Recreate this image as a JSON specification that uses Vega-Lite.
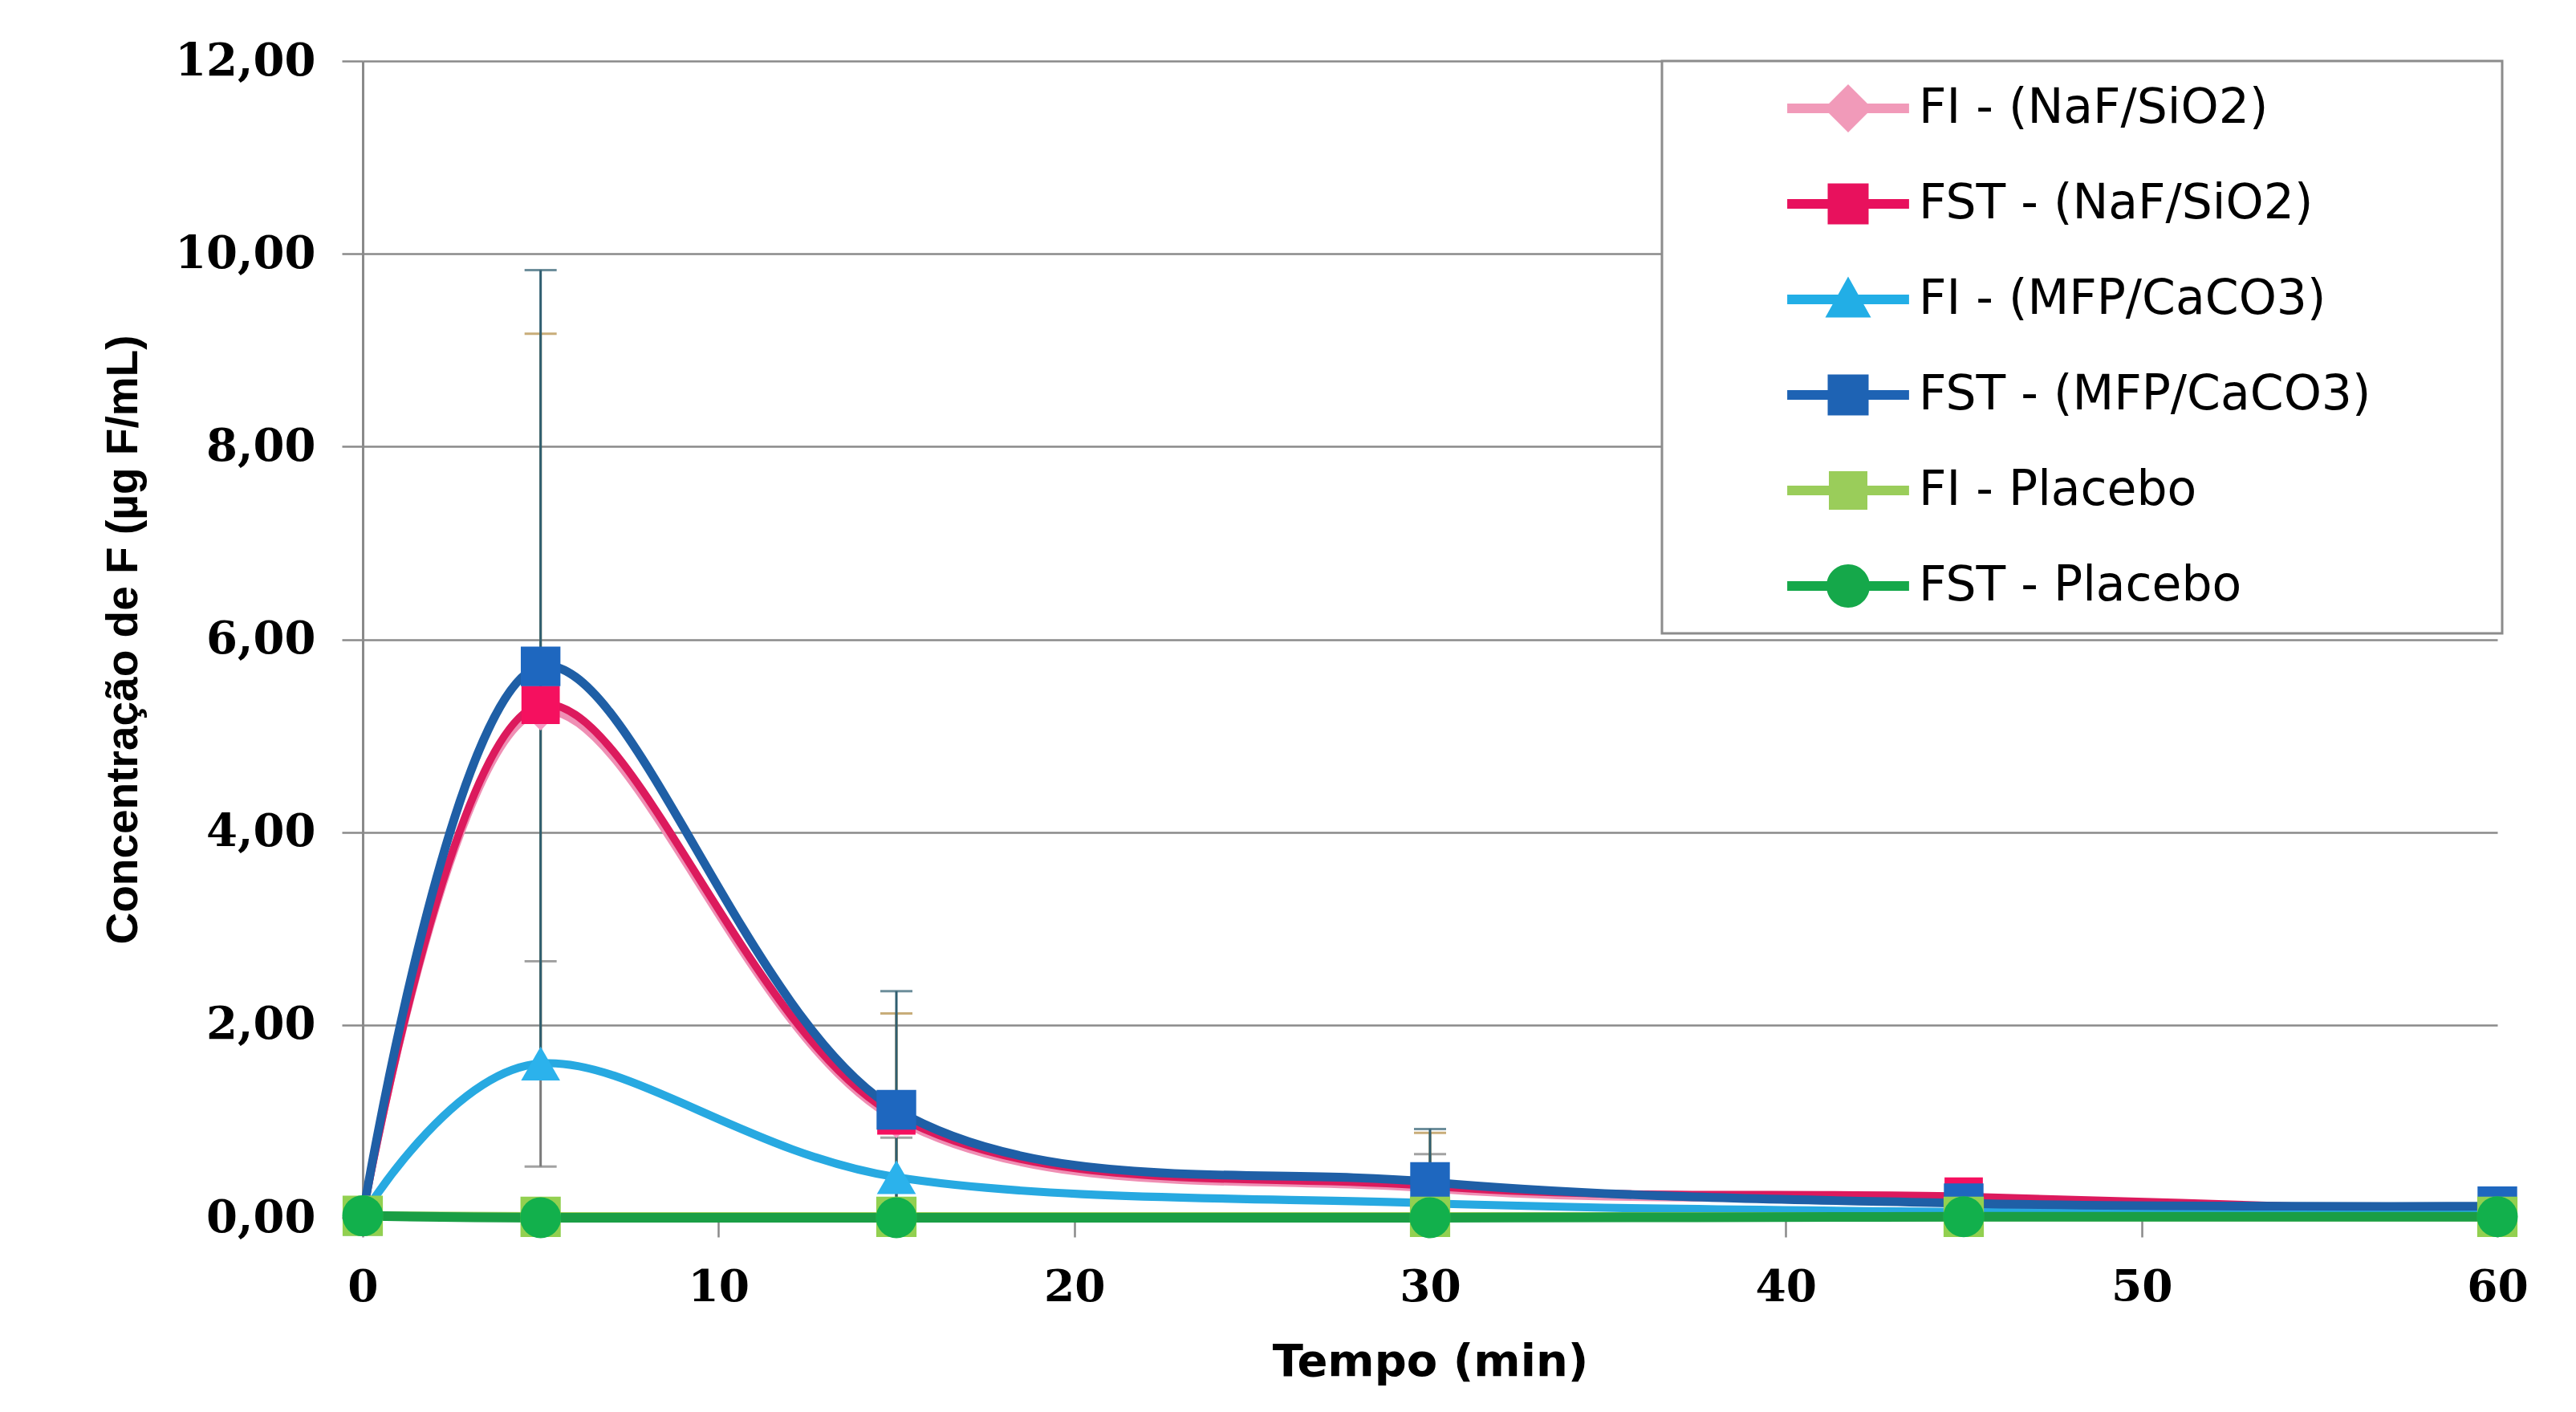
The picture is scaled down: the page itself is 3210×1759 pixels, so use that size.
{
  "$schema": "https://vega.github.io/schema/vega-lite/v6.json",
  "width": 2660,
  "height": 1441,
  "autosize": {"type": "none"},
  "padding": {"left": 452, "top": 76, "right": 98, "bottom": 242},
  "background": "white",
  "config": {
    "view": {"stroke": null},
    "axisY": {
      "grid": true, "gridColor": "#8a8a8a", "gridWidth": 2.5,
      "domainColor": "#8a8a8a", "domainWidth": 3,
      "tickColor": "#8a8a8a", "tickSize": 26, "tickWidth": 2.5, "tickCount": 6,
      "labelFont": "DejaVu Serif", "labelFontWeight": "bold", "labelFontSize": 56, "labelColor": "black",
      "labelPadding": 33,
      "labelExpr": "replace(format(datum.value, '.2f'), '.', ',')",
      "titleFont": "Liberation Sans", "titleFontWeight": "bold", "titleFontSize": 55, "titleColor": "black",
      "titlePadding": 70
    },
    "axisX": {
      "grid": false,
      "domainColor": "#8a8a8a", "domainWidth": 3,
      "tickColor": "#8a8a8a", "tickSize": 24, "tickWidth": 2.5, "tickCount": 6,
      "labelFont": "DejaVu Serif", "labelFontWeight": "bold", "labelFontSize": 55, "labelColor": "black",
      "labelPadding": 36, "labelFlush": false, "labelOverlap": false,
      "titleFont": "DejaVu Sans", "titleFontWeight": "bold", "titleFontSize": 56, "titleColor": "black",
      "titlePadding": 38
    },
    "legend": {
      "orient": "none", "legendX": 1619, "legendY": 0,
      "padding": 29, "strokeColor": "#8c8c8c", "strokeWidth": 3, "fillColor": "white",
      "titleOrient": "left", "titleFontSize": 1, "titlePadding": 127,
      "symbolSize": 3600, "symbolStrokeWidth": 0, "symbolOffset": 46,
      "labelOffset": 58, "rowPadding": 59,
      "labelFont": "DejaVu Sans", "labelFontSize": 60, "labelColor": "black", "labelLimit": 1400
    }
  },
  "datasets": {
    "pts": [
      {"s": "FI - (NaF/SiO2)", "t": 0, "v": 0.02},
      {"s": "FI - (NaF/SiO2)", "t": 5, "v": 5.25},
      {"s": "FI - (NaF/SiO2)", "t": 15, "v": 1.02},
      {"s": "FI - (NaF/SiO2)", "t": 30, "v": 0.30},
      {"s": "FI - (NaF/SiO2)", "t": 45, "v": 0.18},
      {"s": "FI - (NaF/SiO2)", "t": 60, "v": 0.04},
      {"s": "FST - (NaF/SiO2)", "t": 0, "v": 0.02},
      {"s": "FST - (NaF/SiO2)", "t": 5, "v": 5.32},
      {"s": "FST - (NaF/SiO2)", "t": 15, "v": 1.06},
      {"s": "FST - (NaF/SiO2)", "t": 30, "v": 0.33},
      {"s": "FST - (NaF/SiO2)", "t": 45, "v": 0.22},
      {"s": "FST - (NaF/SiO2)", "t": 60, "v": 0.05},
      {"s": "FI - (MFP/CaCO3)", "t": 0, "v": 0.02},
      {"s": "FI - (MFP/CaCO3)", "t": 5, "v": 1.60},
      {"s": "FI - (MFP/CaCO3)", "t": 15, "v": 0.42},
      {"s": "FI - (MFP/CaCO3)", "t": 30, "v": 0.15},
      {"s": "FI - (MFP/CaCO3)", "t": 45, "v": 0.06},
      {"s": "FI - (MFP/CaCO3)", "t": 60, "v": 0.04},
      {"s": "FST - (MFP/CaCO3)", "t": 0, "v": 0.02},
      {"s": "FST - (MFP/CaCO3)", "t": 5, "v": 5.72},
      {"s": "FST - (MFP/CaCO3)", "t": 15, "v": 1.12},
      {"s": "FST - (MFP/CaCO3)", "t": 30, "v": 0.37},
      {"s": "FST - (MFP/CaCO3)", "t": 45, "v": 0.15},
      {"s": "FST - (MFP/CaCO3)", "t": 60, "v": 0.12},
      {"s": "FI - Placebo", "t": 0, "v": 0.02},
      {"s": "FI - Placebo", "t": 5, "v": 0.01},
      {"s": "FI - Placebo", "t": 15, "v": 0.01},
      {"s": "FI - Placebo", "t": 30, "v": 0.01},
      {"s": "FI - Placebo", "t": 45, "v": 0.01},
      {"s": "FI - Placebo", "t": 60, "v": 0.01},
      {"s": "FST - Placebo", "t": 0, "v": 0.02},
      {"s": "FST - Placebo", "t": 5, "v": 0.0},
      {"s": "FST - Placebo", "t": 15, "v": 0.0},
      {"s": "FST - Placebo", "t": 30, "v": 0.0},
      {"s": "FST - Placebo", "t": 45, "v": 0.01},
      {"s": "FST - Placebo", "t": 60, "v": 0.01}
    ],
    "errs": [
      {"s": "FI - (MFP/CaCO3)", "t": 5, "lo": 0.53, "hi": 2.66},
      {"s": "FI - (MFP/CaCO3)", "t": 15, "lo": 0.0, "hi": 0.83},
      {"s": "FI - (MFP/CaCO3)", "t": 30, "lo": 0.0, "hi": 0.66},
      {"s": "FST - (NaF/SiO2)", "t": 5, "lo": 1.47, "hi": 9.17},
      {"s": "FST - (NaF/SiO2)", "t": 15, "lo": 0.0, "hi": 2.12},
      {"s": "FST - (NaF/SiO2)", "t": 30, "lo": 0.0, "hi": 0.88},
      {"s": "FST - (MFP/CaCO3)", "t": 5, "lo": 1.60, "hi": 9.83},
      {"s": "FST - (MFP/CaCO3)", "t": 15, "lo": 0.0, "hi": 2.35},
      {"s": "FST - (MFP/CaCO3)", "t": 30, "lo": 0.0, "hi": 0.92}
    ]
  },
  "layer": [
    {
      "data": {"name": "errs"},
      "mark": {"type": "errorbar", "thickness": 3, "ticks": {"size": 40, "thickness": 3}},
      "encoding": {
        "x": {"field": "t", "type": "quantitative", "scale": {"domain": [0, 60]}, "title": "Tempo (min)"},
        "y": {"field": "lo", "type": "quantitative", "scale": {"domain": [0, 12]}, "title": "Concentração de F (µg F/mL)"},
        "y2": {"field": "hi"},
        "color": {
          "field": "s", "type": "nominal", "legend": null,
          "scale": {"domain": ["FI - (MFP/CaCO3)", "FST - (NaF/SiO2)", "FST - (MFP/CaCO3)"], "range": ["#7a7a7a", "#b08a40", "#2f5e70"]}
        }
      }
    },
    {
      "data": {"name": "pts"},
      "mark": {"type": "line", "interpolate": "cardinal", "tension": 0, "clip": false},
      "encoding": {
        "x": {"field": "t", "type": "quantitative", "scale": {"domain": [0, 60]}, "title": "Tempo (min)"},
        "y": {"field": "v", "type": "quantitative", "scale": {"domain": [0, 12]}, "title": "Concentração de F (µg F/mL)"},
        "color": {
          "field": "s", "type": "nominal", "legend": null,
          "scale": {
            "domain": ["FI - (NaF/SiO2)", "FST - (NaF/SiO2)", "FI - (MFP/CaCO3)", "FST - (MFP/CaCO3)", "FI - Placebo", "FST - Placebo"],
            "range": ["#ef8fb4", "#dc1a5d", "#27a9e1", "#1f5fa6", "#99cc55", "#1a9e45"]
          }
        },
        "strokeWidth": {
          "field": "s", "type": "nominal", "legend": null,
          "scale": {
            "domain": ["FI - (NaF/SiO2)", "FST - (NaF/SiO2)", "FI - (MFP/CaCO3)", "FST - (MFP/CaCO3)", "FI - Placebo", "FST - Placebo"],
            "range": [9, 12, 8, 12, 9, 10]
          }
        }
      }
    },
    {
      "data": {"name": "pts"},
      "mark": {"type": "point", "filled": true, "opacity": 1, "clip": false},
      "encoding": {
        "x": {"field": "t", "type": "quantitative", "scale": {"domain": [0, 60]}, "title": "Tempo (min)"},
        "y": {"field": "v", "type": "quantitative", "scale": {"domain": [0, 12]}, "title": "Concentração de F (µg F/mL)"},
        "color": {
          "field": "s", "type": "nominal", "legend": null,
          "scale": {
            "domain": ["FI - (NaF/SiO2)", "FST - (NaF/SiO2)", "FI - (MFP/CaCO3)", "FST - (MFP/CaCO3)", "FI - Placebo", "FST - Placebo"],
            "range": ["#f49ac1", "#f5105f", "#2bb2ec", "#1e67bf", "#92d050", "#12b04c"]
          }
        },
        "shape": {
          "field": "s", "type": "nominal", "legend": null,
          "scale": {
            "domain": ["FI - (NaF/SiO2)", "FST - (NaF/SiO2)", "FI - (MFP/CaCO3)", "FST - (MFP/CaCO3)", "FI - Placebo", "FST - Placebo"],
            "range": ["diamond", "square", "triangle-up", "square", "square", "circle"]
          }
        },
        "size": {
          "field": "s", "type": "nominal", "legend": null,
          "scale": {
            "domain": ["FI - (NaF/SiO2)", "FST - (NaF/SiO2)", "FI - (MFP/CaCO3)", "FST - (MFP/CaCO3)", "FI - Placebo", "FST - Placebo"],
            "range": [2200, 2600, 2300, 2600, 2000, 2500]
          }
        }
      }
    },
    {
      "data": {"name": "pts"},
      "transform": [{"filter": {"field": "t", "lt": -1}}],
      "mark": {"type": "point", "filled": true, "opacity": 1, "size": 3600, "strokeWidth": 0},
      "encoding": {
        "x": {"field": "t", "type": "quantitative", "scale": {"domain": [0, 60]}, "title": "Tempo (min)"},
        "y": {"field": "v", "type": "quantitative", "scale": {"domain": [0, 12]}, "title": "Concentração de F (µg F/mL)"},
        "color": {
          "field": "s", "type": "nominal", "title": " ",
          "scale": {
            "domain": ["FI - (NaF/SiO2)", "FST - (NaF/SiO2)", "FI - (MFP/CaCO3)", "FST - (MFP/CaCO3)", "FI - Placebo", "FST - Placebo"],
            "range": ["#f19ab9", "#e8115d", "#22aee6", "#1e63b4", "#9acd5a", "#15a84a"]
          }
        },
        "shape": {
          "field": "s", "type": "nominal", "title": " ",
          "scale": {
            "domain": ["FI - (NaF/SiO2)", "FST - (NaF/SiO2)", "FI - (MFP/CaCO3)", "FST - (MFP/CaCO3)", "FI - Placebo", "FST - Placebo"],
            "range": [
              "M26.2,0L26.2,0Z M-2.53,-0.2H2.53V0.2H-2.53Z M0,-1L1,0L0,1L-1,0Z",
              "M26.2,0L26.2,0Z M-2.53,-0.2H2.53V0.2H-2.53Z M-0.85,-0.85H0.85V0.85H-0.85Z",
              "M26.2,0L26.2,0Z M-2.53,-0.2H2.53V0.2H-2.53Z M0,-0.95L0.95,0.75H-0.95Z",
              "M26.2,0L26.2,0Z M-2.53,-0.2H2.53V0.2H-2.53Z M-0.85,-0.85H0.85V0.85H-0.85Z",
              "M26.2,0L26.2,0Z M-2.53,-0.2H2.53V0.2H-2.53Z M-0.8,-0.8H0.8V0.8H-0.8Z",
              "M26.2,0L26.2,0Z M-2.53,-0.2H2.53V0.2H-2.53Z M-0.9,0A0.9,0.9 0 1,1 0.9,0A0.9,0.9 0 1,1 -0.9,0Z"
            ]
          }
        }
      }
    }
  ],
  "resolve": {"scale": {"color": "independent", "shape": "independent", "size": "independent", "strokeWidth": "independent"}}
}
